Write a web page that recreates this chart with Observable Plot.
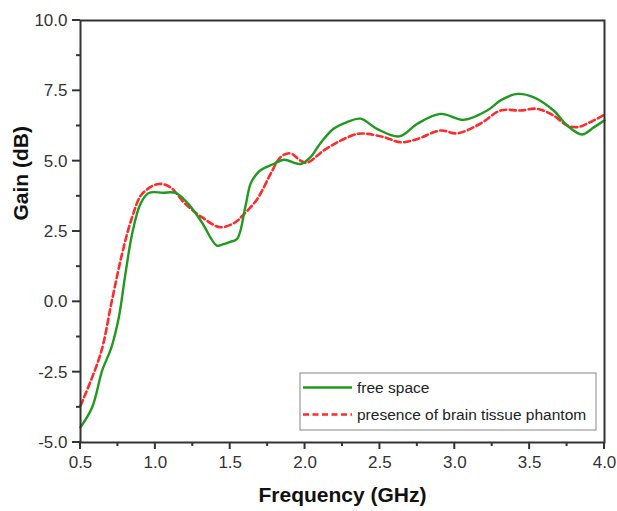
<!DOCTYPE html>
<html>
<head>
<meta charset="utf-8">
<script src="https://cdn.jsdelivr.net/npm/d3@7"></script>
<script src="https://cdn.jsdelivr.net/npm/@observablehq/plot@0.6"></script>
<style>
  html, body { margin: 0; padding: 0; background: #fff; }
  #chart { width: 617px; height: 511px; }
  svg { font-family: "Liberation Sans", Arial, sans-serif; }
</style>
</head>
<body>
<div id="chart"></div>
<script>
// Free space
const freqFree = [0.5, 0.578, 0.645, 0.707, 0.756, 0.80, 0.845, 0.90, 0.956, 1.05, 1.135, 1.22, 1.31, 1.41, 1.45, 1.50, 1.547, 1.60, 1.636, 1.67, 1.70, 1.79, 1.858, 1.97, 2.036, 2.10, 2.19, 2.28, 2.37, 2.48, 2.63, 2.75, 2.905, 3.06, 3.216, 3.306, 3.417, 3.528, 3.66, 3.75, 3.85, 3.93, 4.0];
const gainFree = [-4.46, -3.75, -2.44, -1.61, -0.55, 0.99, 2.42, 3.48, 3.87, 3.88, 3.87, 3.48, 2.83, 2.0, 2.04, 2.13, 2.24, 3.35, 4.2, 4.5, 4.67, 4.90, 5.05, 4.90, 5.14, 5.62, 6.15, 6.39, 6.51, 6.15, 5.88, 6.33, 6.68, 6.47, 6.80, 7.16, 7.39, 7.27, 6.80, 6.27, 5.95, 6.21, 6.45];
// Presence of brain tissue phantom
const freqPhantom = [0.5, 0.634, 0.71, 0.778, 0.845, 0.912, 1.023, 1.10, 1.20, 1.31, 1.435, 1.535, 1.58, 1.68, 1.77, 1.836, 1.90, 1.97, 2.01, 2.125, 2.237, 2.35, 2.415, 2.53, 2.64, 2.75, 2.905, 3.016, 3.17, 3.306, 3.44, 3.55, 3.66, 3.75, 3.82, 3.906, 4.0];
const gainPhantom = [-3.69, -1.85, 0.05, 1.71, 3.01, 3.84, 4.19, 4.07, 3.48, 3.01, 2.65, 2.83, 3.05, 3.65, 4.55, 5.14, 5.28, 5.02, 4.94, 5.38, 5.73, 5.97, 5.97, 5.85, 5.67, 5.79, 6.09, 5.99, 6.33, 6.80, 6.80, 6.86, 6.62, 6.27, 6.21, 6.39, 6.65];

const seriesNames = ["free space", "presence of brain tissue phantom"];
const xTicks = [0.5, 1.0, 1.5, 2.0, 2.5, 3.0, 3.5, 4.0];
const xMinor = [0.75, 1.25, 1.75, 2.25, 2.75, 3.25, 3.75];
const yTicks = [-5, -2.5, 0, 2.5, 5, 7.5, 10];
const yMinor = [-3.75, -1.25, 1.25, 3.75, 6.25, 8.75];

const free = freqFree.map((f, i) => ({f, g: gainFree[i]}));
const phantom = freqPhantom.map((f, i) => ({f, g: gainPhantom[i]}));

const green = "#1f9a1f";
const red = "#ff2a2a";
const axisColor = "#333";
const fmt = d => d.toFixed(1); // ASCII hyphen minus, as in the reference

const plot = Plot.plot({
  width: 617,
  height: 511,
  marginLeft: 80,
  marginRight: 13,
  marginTop: 20,
  marginBottom: 69,
  style: {fontFamily: "'Liberation Sans', Arial, sans-serif", fontSize: "17px", color: axisColor, background: "#fff"},
  x: {domain: [0.5, 4.0]},
  y: {domain: [-5, 10]},
  marks: [
    Plot.line(phantom, {x: "f", y: "g", stroke: red, strokeWidth: 2.6, strokeDasharray: "6,3.5", curve: "catmull-rom"}),
    Plot.line(free, {x: "f", y: "g", stroke: green, strokeWidth: 2.4, curve: "catmull-rom"}),
    Plot.frame({stroke: axisColor, strokeWidth: 2}),
    Plot.axisX({ticks: xTicks, tickSize: 0, tickPadding: 13, tickFormat: fmt, label: null, fontSize: 17, fill: axisColor}),
    Plot.axisY({ticks: yTicks, tickSize: 0, tickPadding: 13, tickFormat: fmt, label: null, fontSize: 17, fill: axisColor}),
    Plot.text(["Gain (dB)"], {frameAnchor: "left", dx: -59, dy: -11, rotate: -90, fontSize: 21, fontWeight: "bold", fill: "#111", lineAnchor: "middle"}),
    Plot.text(["Frequency (GHz)"], {frameAnchor: "bottom", dy: 53, fontSize: 21, fontWeight: "bold", fill: "#111", lineAnchor: "middle"})
  ]
});

document.getElementById("chart").appendChild(plot);

const svg = d3.select(plot);
const xs = plot.scale("x"), ys = plot.scale("y");
const x0 = xs.range[0], y0 = ys.range[0];

// Outward tick marks on the left and bottom axes, placed via the plot's scales
const tg = svg.append("g").attr("stroke", axisColor).attr("stroke-width", 2);
xTicks.forEach(v => tg.append("line").attr("x1", xs.apply(v)).attr("x2", xs.apply(v)).attr("y1", y0).attr("y2", y0 + 7));
xMinor.forEach(v => tg.append("line").attr("x1", xs.apply(v)).attr("x2", xs.apply(v)).attr("y1", y0).attr("y2", y0 + 4));
yTicks.forEach(v => tg.append("line").attr("y1", ys.apply(v)).attr("y2", ys.apply(v)).attr("x1", x0).attr("x2", x0 - 8));
yMinor.forEach(v => tg.append("line").attr("y1", ys.apply(v)).attr("y2", ys.apply(v)).attr("x1", x0).attr("x2", x0 - 4));

// Legend inside the plot area
const lg = svg.append("g").attr("font-family", "'Liberation Sans', Arial, sans-serif").attr("text-anchor", "start");
lg.append("rect").attr("x", 300).attr("y", 373).attr("width", 296).attr("height", 57)
  .attr("fill", "#fff").attr("stroke", "#999").attr("stroke-width", 1.2);
const items = [
  {name: seriesNames[0], color: green, dash: null, y: 387.5},
  {name: seriesNames[1], color: red, dash: "6,3.5", y: 414.5}
];
items.forEach(it => {
  lg.append("line").attr("x1", 303).attr("x2", 352).attr("y1", it.y).attr("y2", it.y)
    .attr("stroke", it.color).attr("stroke-width", 2.4).attr("stroke-dasharray", it.dash);
  lg.append("text").attr("x", 357).attr("y", it.y).attr("dy", "0.35em").attr("text-anchor", "start")
    .attr("font-size", 15.5).attr("fill", "#222").text(it.name);
});
</script>
</body>
</html>
